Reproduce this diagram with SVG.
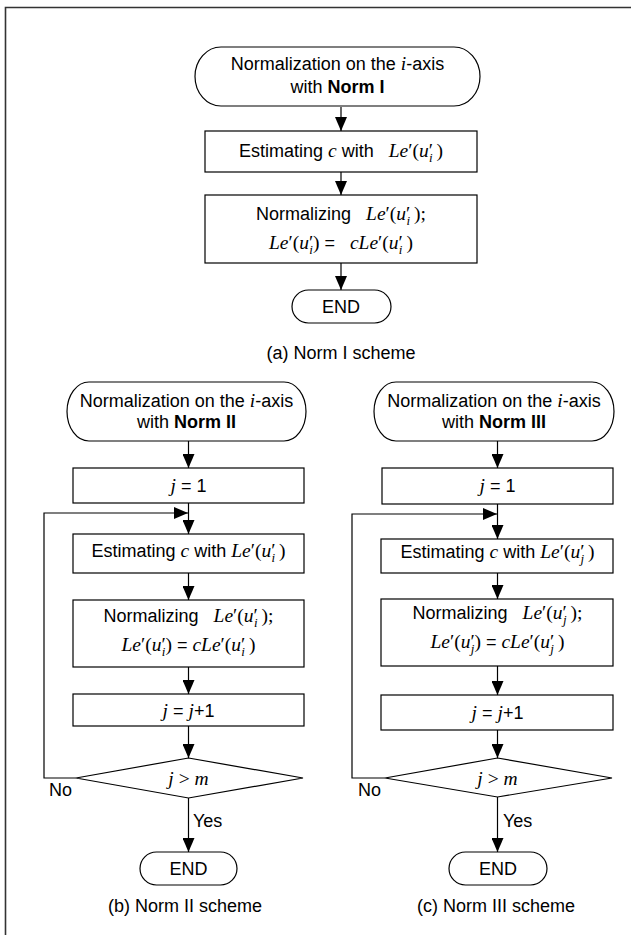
<svg xmlns="http://www.w3.org/2000/svg" width="631" height="935" viewBox="0 0 631 935">
<style>
.s{fill:none;stroke:#000;stroke-width:1.2}
.t{font-family:"Liberation Sans",Arial,sans-serif;font-size:18px;fill:#000}
.c{text-anchor:middle}
.b{font-weight:bold}
.i{font-family:"Liberation Serif","Times New Roman",serif;font-style:italic;font-size:19.5px}
.r{font-family:"Liberation Serif","Times New Roman",serif;font-style:normal;font-size:19.5px}
.sub{font-family:"Liberation Serif","Times New Roman",serif;font-style:italic;font-size:13px}
.frame{fill:none;stroke:#333;stroke-width:1.6}
</style>
<defs>
<marker id="ah" markerUnits="userSpaceOnUse" markerWidth="14" markerHeight="12" refX="14" refY="6" orient="auto">
<path d="M0,0 L14,6 L0,12 z" fill="#000"/>
</marker>
</defs>
<rect width="631" height="935" fill="#fff"/>
<path class="frame" d="M5.5,935 V7.5 H631"/>

<g id="connectors" class="s">
<line x1="341" y1="107" x2="341" y2="131" marker-end="url(#ah)"/>
<line x1="341" y1="172" x2="341" y2="195" marker-end="url(#ah)"/>
<line x1="341" y1="263" x2="341" y2="290" marker-end="url(#ah)"/>

<line x1="188.5" y1="441" x2="188.5" y2="468" marker-end="url(#ah)"/>
<line x1="188.5" y1="503" x2="188.5" y2="534" marker-end="url(#ah)"/>
<line x1="188.5" y1="573" x2="188.5" y2="600" marker-end="url(#ah)"/>
<line x1="188.5" y1="667" x2="188.5" y2="694" marker-end="url(#ah)"/>
<line x1="188.5" y1="726" x2="188.5" y2="758" marker-end="url(#ah)"/>
<line x1="188.5" y1="798" x2="188.5" y2="852" marker-end="url(#ah)"/>
<polyline points="76,778 44,778 44,513 188,513" marker-end="url(#ah)"/>

<line x1="497.5" y1="441" x2="497.5" y2="468" marker-end="url(#ah)"/>
<line x1="497.5" y1="504" x2="497.5" y2="539" marker-end="url(#ah)"/>
<line x1="497.5" y1="573" x2="497.5" y2="599" marker-end="url(#ah)"/>
<line x1="497.5" y1="666" x2="497.5" y2="695" marker-end="url(#ah)"/>
<line x1="497.5" y1="730" x2="497.5" y2="758" marker-end="url(#ah)"/>
<line x1="497.5" y1="797" x2="497.5" y2="852" marker-end="url(#ah)"/>
<polyline points="385,778 352,778 352,514 497,514" marker-end="url(#ah)"/>
</g>

<!-- (a) -->
<g id="a-start">
<rect class="s" x="195" y="47" width="285" height="59" rx="26" ry="29.5"/>
<text class="t c" x="337.5" y="70">Normalization on the <tspan class="i">i</tspan>-axis</text>
<text class="t c" x="337.5" y="93">with <tspan class="b">Norm I</tspan></text>
</g>
<g id="a-estimate">
<rect class="s" x="205" y="131" width="272" height="41"/>
<text class="t c" x="341" y="157">Estimating <tspan class="i">c</tspan> with&#160;&#160; <tspan class="i">Le</tspan><tspan class="r">′(</tspan><tspan class="i">u</tspan><tspan class="r">′</tspan><tspan class="sub" dx="-4" dy="5">i</tspan><tspan class="r" dx="4" dy="-5">)</tspan></text>
</g>
<g id="a-normalize">
<rect class="s" x="205" y="195" width="272" height="68"/>
<text class="t c" x="341" y="220">Normalizing&#160;&#160; <tspan class="i">Le</tspan><tspan class="r">′(</tspan><tspan class="i">u</tspan><tspan class="r">′</tspan><tspan class="sub" dx="-4" dy="5">i</tspan><tspan class="r" dx="4" dy="-5">);</tspan></text>
<text class="t c" x="341" y="249"><tspan class="i">Le</tspan><tspan class="r">′(</tspan><tspan class="i">u</tspan><tspan class="r">′</tspan><tspan class="sub" dx="-4" dy="5">i</tspan><tspan class="r" dy="-5">)</tspan> =&#160;&#160; <tspan class="i">cLe</tspan><tspan class="r">′(</tspan><tspan class="i">u</tspan><tspan class="r">′</tspan><tspan class="sub" dx="-4" dy="5">i</tspan><tspan class="r" dx="4" dy="-5">)</tspan></text>
</g>
<g id="a-end">
<rect class="s" x="292" y="290" width="99" height="33" rx="16.5" ry="16.5"/>
<text class="t c" x="341" y="313">END</text>
</g>
<text class="t c" x="341" y="359">(a) Norm I scheme</text>

<!-- (b) -->
<g id="b-start">
<rect class="s" x="67" y="382" width="239" height="59" rx="22" ry="29.5"/>
<text class="t c" x="186.5" y="407">Normalization on the <tspan class="i">i</tspan>-axis</text>
<text class="t c" x="186.5" y="428">with <tspan class="b">Norm II</tspan></text>
</g>
<g id="b-init">
<rect class="s" x="73" y="468" width="231" height="35"/>
<text class="t c" x="188.5" y="492"><tspan class="i">j</tspan> = 1</text>
</g>
<g id="b-estimate">
<rect class="s" x="73" y="534" width="231" height="39"/>
<text class="t c" x="188.5" y="557">Estimating <tspan class="i">c</tspan> with <tspan class="i">Le</tspan><tspan class="r">′(</tspan><tspan class="i">u</tspan><tspan class="r">′</tspan><tspan class="sub" dx="-4" dy="5">i</tspan><tspan class="r" dx="4" dy="-5">)</tspan></text>
</g>
<g id="b-normalize">
<rect class="s" x="73" y="600" width="231" height="67"/>
<text class="t c" x="188.5" y="622">Normalizing&#160;&#160; <tspan class="i">Le</tspan><tspan class="r">′(</tspan><tspan class="i">u</tspan><tspan class="r">′</tspan><tspan class="sub" dx="-4" dy="5">i</tspan><tspan class="r" dx="4" dy="-5">);</tspan></text>
<text class="t c" x="188.5" y="651"><tspan class="i">Le</tspan><tspan class="r">′(</tspan><tspan class="i">u</tspan><tspan class="r">′</tspan><tspan class="sub" dx="-4" dy="5">i</tspan><tspan class="r" dy="-5">)</tspan> = <tspan class="i">cLe</tspan><tspan class="r">′(</tspan><tspan class="i">u</tspan><tspan class="r">′</tspan><tspan class="sub" dx="-4" dy="5">i</tspan><tspan class="r" dx="4" dy="-5">)</tspan></text>
</g>
<g id="b-increment">
<rect class="s" x="73" y="694" width="231" height="32"/>
<text class="t c" x="188.5" y="717"><tspan class="i">j</tspan> = <tspan class="i">j</tspan>+1</text>
</g>
<g id="b-decision">
<polygon class="s" points="188.5,758 303,778 188.5,798 76,778"/>
<text class="r c" x="188.5" y="785"><tspan class="i">j</tspan> &gt; <tspan class="i">m</tspan></text>
</g>
<text class="t" x="49" y="796">No</text>
<text class="t" x="193" y="827">Yes</text>
<g id="b-end">
<rect class="s" x="140" y="852" width="97" height="33" rx="16.5" ry="16.5"/>
<text class="t c" x="188.5" y="875">END</text>
</g>
<text class="t c" x="185" y="912">(b) Norm II scheme</text>

<!-- (c) -->
<g id="c-start">
<rect class="s" x="374" y="382" width="240" height="59" rx="22" ry="29.5"/>
<text class="t c" x="494" y="407">Normalization on the <tspan class="i">i</tspan>-axis</text>
<text class="t c" x="494" y="428">with <tspan class="b">Norm III</tspan></text>
</g>
<g id="c-init">
<rect class="s" x="382" y="468" width="231" height="36"/>
<text class="t c" x="497.5" y="492"><tspan class="i">j</tspan> = 1</text>
</g>
<g id="c-estimate">
<rect class="s" x="381" y="539" width="232" height="34"/>
<text class="t c" x="497.5" y="558">Estimating <tspan class="i">c</tspan> with <tspan class="i">Le</tspan><tspan class="r">′(</tspan><tspan class="i">u</tspan><tspan class="r">′</tspan><tspan class="sub" dx="-4" dy="5">j</tspan><tspan class="r" dx="4" dy="-5">)</tspan></text>
</g>
<g id="c-normalize">
<rect class="s" x="381" y="599" width="232" height="67"/>
<text class="t c" x="497.5" y="619">Normalizing&#160;&#160; <tspan class="i">Le</tspan><tspan class="r">′(</tspan><tspan class="i">u</tspan><tspan class="r">′</tspan><tspan class="sub" dx="-4" dy="5">j</tspan><tspan class="r" dx="4" dy="-5">);</tspan></text>
<text class="t c" x="497.5" y="648"><tspan class="i">Le</tspan><tspan class="r">′(</tspan><tspan class="i">u</tspan><tspan class="r">′</tspan><tspan class="sub" dx="-4" dy="5">j</tspan><tspan class="r" dy="-5">)</tspan> = <tspan class="i">cLe</tspan><tspan class="r">′(</tspan><tspan class="i">u</tspan><tspan class="r">′</tspan><tspan class="sub" dx="-4" dy="5">j</tspan><tspan class="r" dx="4" dy="-5">)</tspan></text>
</g>
<g id="c-increment">
<rect class="s" x="381" y="695" width="232" height="35"/>
<text class="t c" x="497.5" y="719"><tspan class="i">j</tspan> = <tspan class="i">j</tspan>+1</text>
</g>
<g id="c-decision">
<polygon class="s" points="497.5,758 612,778 497.5,797 385,778"/>
<text class="r c" x="497.5" y="785"><tspan class="i">j</tspan> &gt; <tspan class="i">m</tspan></text>
</g>
<text class="t" x="358" y="796">No</text>
<text class="t" x="503" y="827">Yes</text>
<g id="c-end">
<rect class="s" x="449" y="852" width="98" height="33" rx="16.5" ry="16.5"/>
<text class="t c" x="498" y="875">END</text>
</g>
<text class="t c" x="496" y="912">(c) Norm III scheme</text>
</svg>
